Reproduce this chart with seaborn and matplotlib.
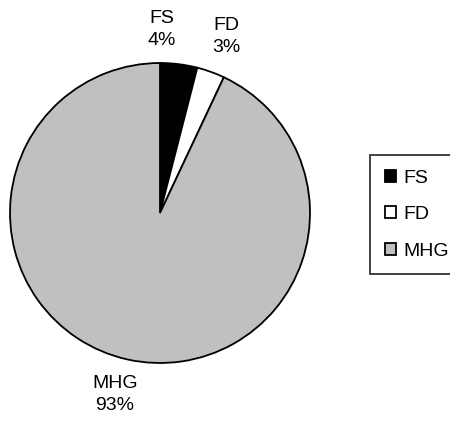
import matplotlib
matplotlib.use("Agg")
import matplotlib.pyplot as plt
import numpy as np
import seaborn as sns

sns.set_style("white")
plt.rcParams["font.family"] = ["Liberation Sans", "DejaVu Sans"]
plt.rcParams["text.color"] = "black"

categories = ["FS", "FD", "MHG"]
shares = [4, 3, 93]
colors = ["#000000", "#ffffff", "#c0c0c0"]

fig = plt.figure(figsize=(4.5, 4.29), dpi=100)
ax = fig.add_axes([10 / 450, 66 / 429, 300 / 450, 300 / 429])

wedges, _ = ax.pie(shares, colors=colors, startangle=90, counterclock=False,
                   radius=1.0,
                   wedgeprops=dict(edgecolor="black", linewidth=1.3))
ax.set_xlim(-1, 1)
ax.set_ylim(-1, 1)
ax.set_aspect("equal")
ax.axis("off")

# outside labels: category name over percentage
label_pos = {"FS": (0.013, 1.225), "FD": (0.44, 1.175), "MHG": (-0.30, -1.21)}
for name, val in zip(categories, shares):
    x, y = label_pos[name]
    ax.text(x, y, f"{name}\n{val}%", ha="center", va="center",
            fontsize=14, linespacing=1.42, color="black", clip_on=False)

leg = fig.legend(wedges, categories, loc="upper left",
                 bbox_to_anchor=(370 / 450, 1 - 155 / 429),
                 frameon=True, fancybox=False, shadow=False,
                 fontsize=14, handlelength=0.6, handleheight=0.6,
                 handletextpad=0.35, labelspacing=1.0, borderpad=0.75,
                 borderaxespad=0)
leg.get_frame().set_edgecolor("black")
leg.get_frame().set_linewidth(1.3)
for h in leg.legend_handles:
    h.set_linewidth(1.3)
for t in leg.get_texts():
    t.set_color("black")

fig.savefig("out.png", dpi=100)
